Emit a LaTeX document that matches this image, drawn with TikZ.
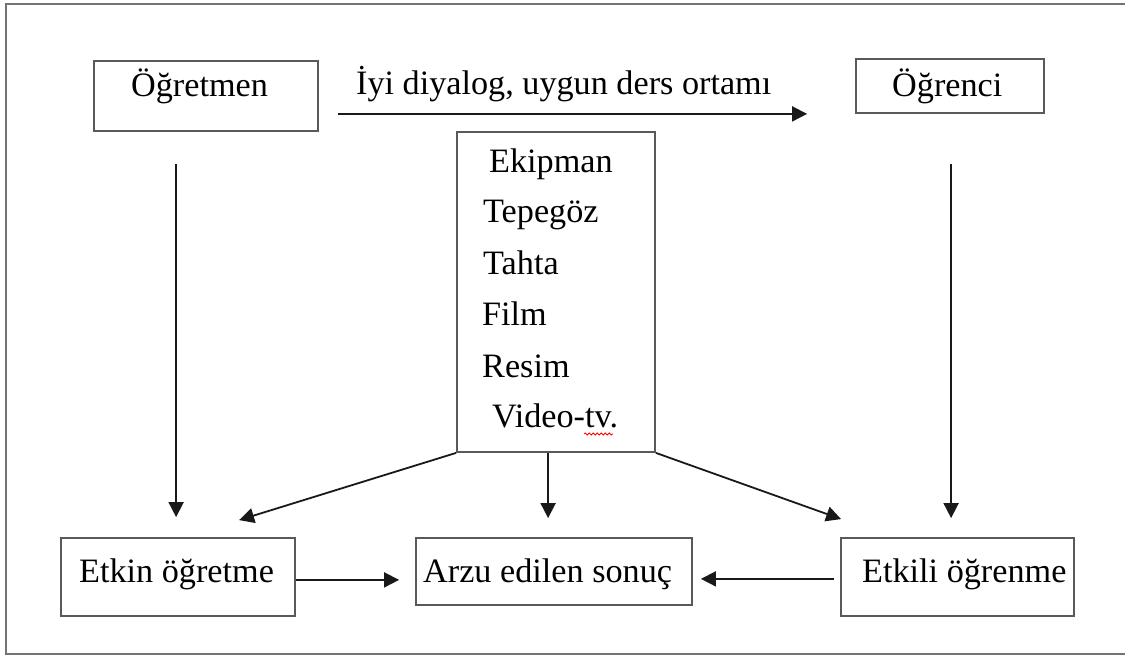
\documentclass[tikz,border=0pt]{standalone}
\usepackage{fontspec}
\setmainfont{Liberation Serif}
\usetikzlibrary{arrows.meta,calc,decorations.pathmorphing}
\begin{document}
\begin{tikzpicture}[x=1pt,y=-1pt,
  box/.style={draw=black!65,line width=1.8pt,inner sep=0,minimum width=#1},
  lbl/.style={anchor=base west,inner sep=0,font=\fontsize{34.2}{40}\selectfont},
  arr/.style={draw=black!90,line width=1.8pt,-{Triangle[length=15pt,width=15pt]}},
  frame/.style={draw=black!55,line width=2pt}]
\useasboundingbox (0,0) rectangle (1125,655);
% outer frame (open at right)
\draw[frame] (1125,4) -- (6,4) -- (6,654) -- (1125,654);
% boxes
\node[box=224pt,minimum height=70pt] (ogretmen) at (206,96) {};
\node[box=188pt,minimum height=54pt] (ogrenci) at (950,86) {};
\node[box=198pt,minimum height=320pt] (ekipman) at (556,292) {};
\node[box=234pt,minimum height=78pt] (etkin) at (178,577) {};
\node[box=276pt,minimum height=67pt] (arzu) at (554,571.5) {};
\node[box=233pt,minimum height=78pt] (etkili) at (957.5,577) {};
% texts
\node[lbl] (t1) at (131,97) {Öğretmen};
\node[lbl] (t2) at (892,97) {Öğrenci};
\node[lbl] (t3) at (356,95) {İyi diyalog, uygun ders ortamı};
\node[lbl] (e1) at (489,173) {Ekipman};
\node[lbl] (e2) at (483,223) {Tepegöz};
\node[lbl] (e3) at (483,275) {Tahta};
\node[lbl] (e4) at (482,325) {Film};
\node[lbl] (e5) at (482,377) {Resim};
\node[lbl] (e6) at (492,427) {Video-tv.};
\node[lbl] (t4) at (79,582) {Etkin öğretme};
\node[lbl] (t5) at (423,582) {Arzu edilen sonuç};
\node[lbl] (t6) at (862,582) {Etkili öğrenme};
% spell-check squiggle
\draw[red,line width=0.8pt,decorate,decoration={snake,amplitude=1pt,segment length=4pt}] (584,434) -- (613,434);
% connectors
\draw[arr] ($(ogretmen.south east)+(19,-18)$) -- ($(ogrenci.south west)+(-48,0)$);
\draw[arr] ($(ogretmen.south west)+(83,32)$) -- ($(etkin.north west)+(116,-20)$);
\draw[arr] ($(ogrenci.south west)+(96,50)$) -- ($(etkili.north west)+(111,-19)$);
\draw[arr] ($(ekipman.south west)+(92,0)$) -- ($(arzu.north west)+(133,-19)$);
\draw[arr] (ekipman.south west) -- ($(etkin.north west)+(179,-17)$);
\draw[arr] (ekipman.south east) -- ($(etkili.north west)+(1,-18)$);
\draw[arr] ($(etkin.south east)+(0,-37)$) -- ($(arzu.south west)+(-16,-26)$);
\draw[arr] ($(etkili.south west)+(-6,-38)$) -- ($(arzu.south east)+(8,-27)$);
\end{tikzpicture}
\end{document}
